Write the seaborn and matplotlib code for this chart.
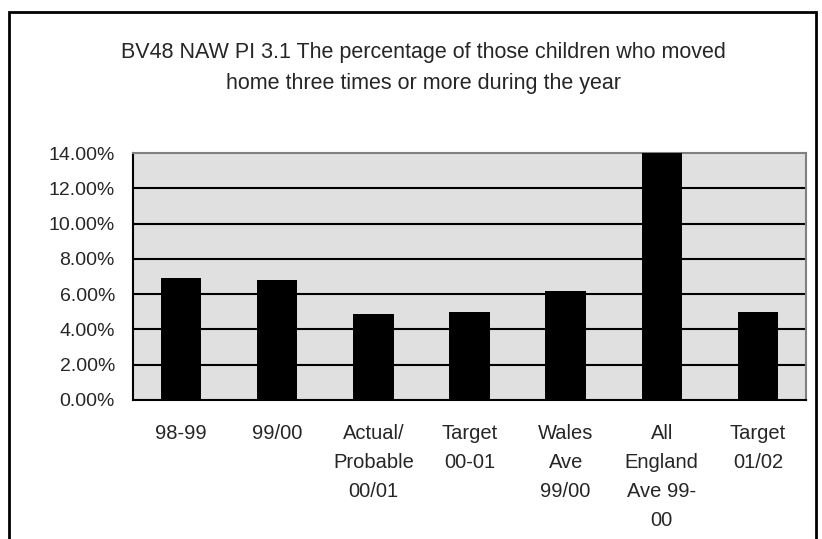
import matplotlib
matplotlib.use("Agg")
import matplotlib.pyplot as plt
import seaborn as sns
import pandas as pd
from matplotlib.patches import Rectangle
from matplotlib.ticker import FuncFormatter

# Datos
categorias = ["98-99", "99/00", "Actual/\nProbable\n00/01", "Target\n00-01",
              "Wales\nAve\n99/00", "All\nEngland\nAve 99-\n00", "Target\n01/02"]
porcentajes = [6.9, 6.8, 4.9, 5.0, 6.2, 14.5, 5.0]
y_ticks = [0, 2, 4, 6, 8, 10, 12, 14]
titulo = "BV48 NAW PI 3.1 The percentage of those children who moved\nhome three times or more during the year"

df = pd.DataFrame({"cat": categorias, "pct": porcentajes})

sns.set_style("white")
plt.rcParams["font.family"] = ["Liberation Sans", "DejaVu Sans"]

fig = plt.figure(figsize=(8.22, 5.39), dpi=100)
ax = fig.add_axes([133 / 822, 139 / 539, 673 / 822, 247 / 539])

sns.barplot(data=df, x="cat", y="pct", color="black", width=0.42,
            saturation=1, ax=ax, zorder=3, edgecolor="black", linewidth=0)

ax.set_facecolor("#e0e0e0")
ax.set_ylim(0, 14)
ax.set_xlim(-0.5, len(categorias) - 0.5)
ax.set_yticks(y_ticks)
ax.yaxis.set_major_formatter(FuncFormatter(lambda v, p: f"{v:.2f}%"))
for v in y_ticks[1:-1]:
    ax.axhline(v, color="black", lw=1.5, zorder=1)

# ticks del eje x en los limites de las categorias
ax.set_xticks([i - 0.5 for i in range(len(categorias) + 1)])
ax.set_xticklabels([])
ax.set_xticks(range(len(categorias)), minor=True)
ax.set_xticklabels(categorias, minor=True, fontsize=14.5, linespacing=1.65,
                   va="top", ha="center")
ax.tick_params(axis="x", which="major", direction="inout", length=9,
               width=1.5, color="black")
ax.tick_params(axis="x", which="minor", length=0, pad=17.5)
ax.tick_params(axis="y", direction="out", length=4, width=1.5,
               color="black", labelsize=14, pad=9)

ax.set_xlabel("")
ax.set_ylabel("")
ax.spines["left"].set_color("black")
ax.spines["bottom"].set_color("black")
ax.spines["left"].set_linewidth(1.5)
ax.spines["bottom"].set_linewidth(1.5)
ax.spines["top"].set_color("#808080")
ax.spines["right"].set_color("#808080")
ax.spines["top"].set_linewidth(1.5)
ax.spines["right"].set_linewidth(1.5)

fig.text(423 / 822, 1 - 68 / 539, titulo, ha="center", va="center",
         fontsize=15.5, linespacing=1.6)

# marco exterior del grafico
fig.patches.append(Rectangle((9 / 822, -0.05), 807 / 822, 1.05 - 12 / 539,
                             transform=fig.transFigure, fill=False,
                             edgecolor="black", lw=2))

fig.savefig("out.png", dpi=100)
